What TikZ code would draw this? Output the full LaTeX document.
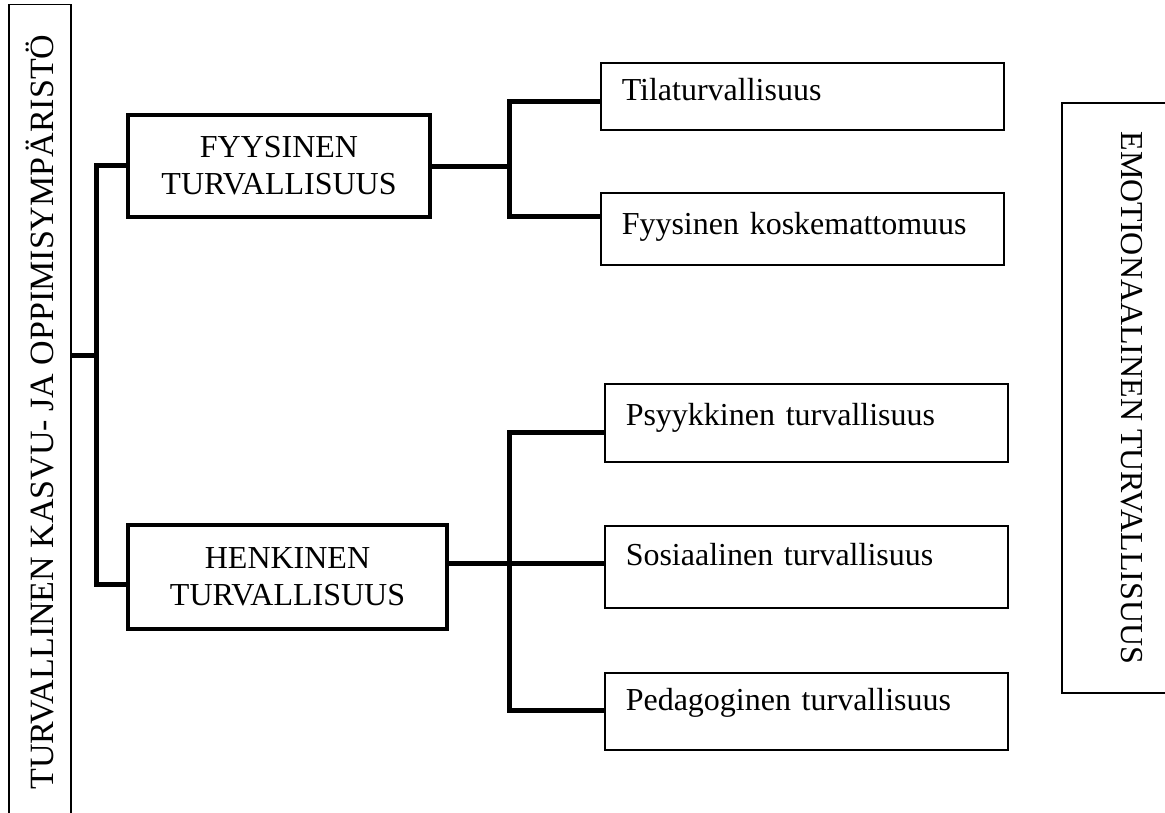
\documentclass[tikz,border=0pt]{standalone}
\usepackage{fontspec}
\setmainfont{Liberation Serif}
\begin{document}
\begin{tikzpicture}[x=1pt, y=-1pt,
  frame/.style={draw, line width=1.5pt, inner sep=0pt, font=\fontsize{32}{37}\selectfont},
  area/.style={draw, line width=4.5pt, align=center, inner sep=0pt, font=\fontsize{32}{37}\selectfont},
  leaf/.style={draw, line width=1.5pt, anchor=north west, align=left, text width=361pt,
    inner xsep=21pt, inner ysep=0pt, font=\fontsize{32}{37}\selectfont},
  conn/.style={line width=5pt}]

\useasboundingbox (0,0) rectangle (1165,812);

\node [frame, minimum width=62pt, minimum height=815pt, font=\fontsize{34}{40}\selectfont] (env) at (40,412)
  {\rotatebox{90}{TURVALLINEN KASVU- JA OPPIMISYMPÄRISTÖ}};
\node [frame, minimum width=140pt, minimum height=590pt] (emo) at (1132,398)
  {\rotatebox{-90}{EMOTIONAALINEN TURVALLISUUS}};

\node [area, minimum width=302pt, minimum height=102pt] (fyys) at (279,166) {FYYSINEN\\TURVALLISUUS};
\node [area, minimum width=319pt, minimum height=104pt] (henk) at (287.5,577) {HENKINEN\\TURVALLISUUS};

\node [leaf, text height=38pt, text depth=29pt] (tila) at (600,62) {Tilaturvallisuus};
\node [leaf, text height=42pt, text depth=30pt] (fyko) at (600,192) {Fyysinen koskemattomuus};
\node [leaf, text height=42pt, text depth=36pt] (psyk) at (604,383) {Psyykkinen turvallisuus};
\node [leaf, text height=40pt, text depth=42pt] (sos) at (604,525) {Sosiaalinen turvallisuus};
\node [leaf, text height=38pt, text depth=39pt] (ped) at (604,672) {Pedagoginen turvallisuus};

\coordinate (root) at (96,355);
\coordinate (fb) at (509,166);
\coordinate (hb) at (509,563);

\draw [conn] (env.east |- root) -- (root);
\draw [conn] (fyys.west |- 0,165) -| (root) |- (henk.west |- 0,584);

\draw [conn] (fyys.east |- fb) -- (fb);
\draw [conn] (tila.west |- 0,101) -| (fb) |- (fyko.west |- 0,216);

\draw [conn] (henk.east |- hb) -- (sos.west |- hb);
\draw [conn] (psyk.west |- 0,432) -| (hb) |- (ped.west |- 0,710);
\end{tikzpicture}
\end{document}
